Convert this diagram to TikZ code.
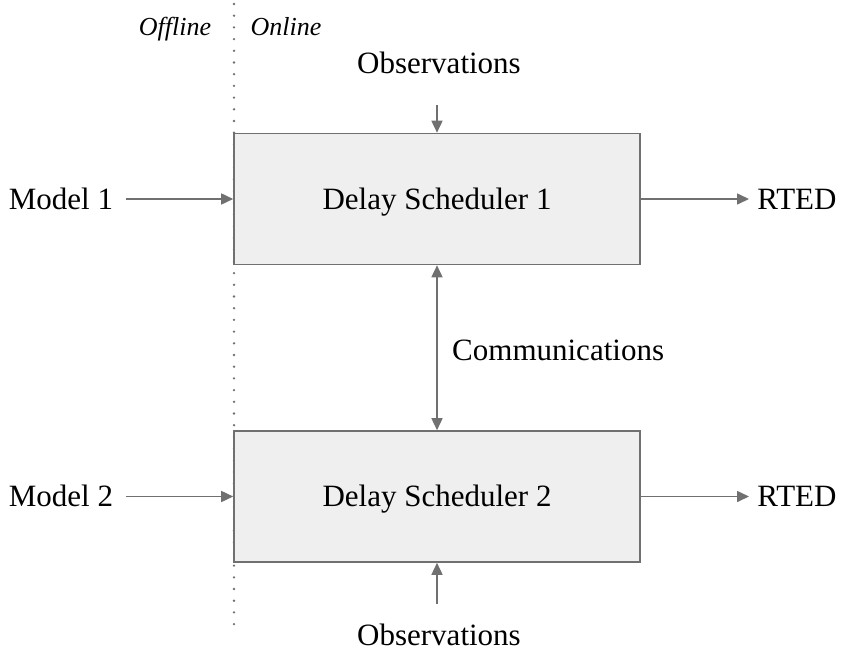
\documentclass[tikz,border=0pt]{standalone}
\usepackage{fontspec}
\setmainfont{Liberation Serif}
\usetikzlibrary{arrows.meta}
\definecolor{edgegray}{HTML}{707070}
\definecolor{boxfill}{HTML}{EFEFEF}
\begin{document}
\begin{tikzpicture}[x=1pt,y=-1pt,
  schedbox/.style={draw=edgegray,line width=1.6pt,fill=boxfill,minimum width=406pt,minimum height=131pt,inner sep=0pt,text height=20.5pt,text depth=0pt,font=\fontsize{31}{36}\selectfont},
  lbl/.style={inner sep=0pt,text height=20.5pt,text depth=0pt,font=\fontsize{31}{36}\selectfont},
  side/.style={inner sep=0pt,anchor=base,font=\fontsize{26}{30}\selectfont\itshape},
  conn/.style={draw=edgegray,line width=1.6pt,-{Triangle[length=12pt,width=11pt]}},
  dconn/.style={draw=edgegray,line width=1.6pt,{Triangle[length=12pt,width=11pt]}-{Triangle[length=12pt,width=11pt]}}]
\useasboundingbox (0,0) rectangle (842,652);
\draw[edgegray,line width=2.6pt,line cap=round,dash pattern=on 0pt off 11.7pt] (234,4) -- (234,628);
\node[side] (off) at (175,36) {Offline};
\node[side] (on) at (286,36) {Online};
\node[schedbox] (d1) at (437,199) {Delay Scheduler 1};
\node[schedbox] (d2) at (437,496.5) {Delay Scheduler 2};
\node[lbl] (obs1) at (439,63) {Observations};
\node[lbl] (obs2) at (439,635) {Observations};
\node[lbl] (m1) at (61,199.5) {Model 1};
\node[lbl] (m2) at (61,496) {Model 2};
\node[lbl] (r1) at (797,199.5) {RTED};
\node[lbl] (r2) at (797,496) {RTED};
\node[lbl,anchor=west] (com) at (452,350) {Communications};
\coordinate (o1s) at (437,105);
\coordinate (o2s) at (437,604);
\coordinate (m1e) at (126,199);
\coordinate (m2e) at (126,496.5);
\coordinate (r1s) at (749,199);
\coordinate (r2s) at (749,496.5);
\draw[conn] (o1s) -- (d1.north);
\draw[conn] (o2s) -- (d2.south);
\draw[conn] (m1e) -- (d1.west);
\draw[conn] (m2e) -- (d2.west);
\draw[conn] (d1.east) -- (r1s);
\draw[conn] (d2.east) -- (r2s);
\draw[dconn] (d1.south) -- (d2.north);
\end{tikzpicture}
\end{document}
